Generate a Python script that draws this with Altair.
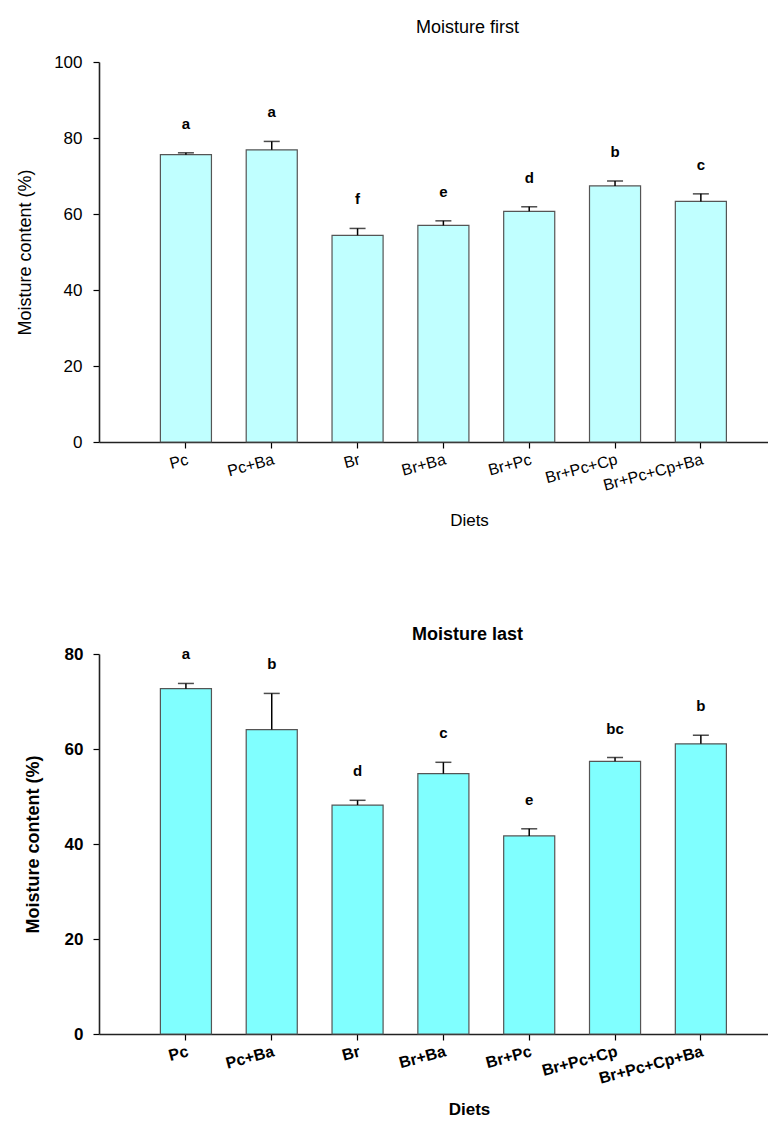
import altair as alt
import pandas as pd

diets = ["Pc", "Pc+Ba", "Br", "Br+Ba", "Br+Pc", "Br+Pc+Cp", "Br+Pc+Cp+Ba"]

first_mean = [75.6, 76.9, 54.4, 57.0, 60.7, 67.4, 63.3]
first_err = [0.5, 2.2, 1.8, 1.2, 1.2, 1.3, 2.0]
first_letters = ["a", "a", "f", "e", "d", "b", "c"]

last_mean = [72.7, 64.1, 48.2, 54.8, 41.7, 57.4, 61.1]
last_err = [1.1, 7.6, 1.0, 2.4, 1.5, 0.8, 1.8]
last_letters = ["a", "b", "d", "c", "e", "bc", "b"]

first_ticks = [0, 20, 40, 60, 80, 100]
last_ticks = [0, 20, 40, 60, 80]

FONT = "Liberation Sans"


def panel(mean, err, letters, title, ticks, fill, bold, title_offset, ytitle_pad,
          ylabel_pad, xtitle_pad):
    df = pd.DataFrame({"diet": diets, "mean": mean, "err": err, "letter": letters})
    df["top"] = df["mean"] + df["err"]
    weight = "bold" if bold else "normal"
    xscale = alt.Scale(domain=diets, paddingInner=0.405, paddingOuter=0.60, align=0.596)
    xaxis = alt.Axis(
        title="Diets", labelAngle=345, labelAlign="right", labelBaseline="top",
        labelFontSize=16, labelFont=FONT, labelFontWeight=weight, labelColor="black",
        labelPadding=3, tickSize=6, tickColor="black", tickWidth=1.2,
        domainColor="#222", domainWidth=1.6, titleFont=FONT, titleFontSize=17,
        titleFontWeight=weight, titleColor="black", titlePadding=xtitle_pad, titleX=370,
        labelOverlap=False,
    )
    yaxis = alt.Axis(
        title="Moisture content (%)", values=ticks, labelFontSize=17, labelFont=FONT,
        labelFontWeight=weight, labelColor="black", labelPadding=ylabel_pad, tickSize=6,
        tickColor="black", tickWidth=1.2, domainColor="#222", domainWidth=1.6,
        titleFont=FONT, titleFontSize=18, titleFontWeight=weight, titleColor="black",
        titlePadding=ytitle_pad,
    )
    x = alt.X("diet:N", scale=xscale, sort=diets, axis=xaxis)
    base = alt.Chart(df)
    bars = base.mark_bar(fill=fill, stroke="#555555", strokeWidth=1.2).encode(
        x=x,
        y=alt.Y("mean:Q", scale=alt.Scale(domain=[0, ticks[-1]], nice=False), axis=yaxis),
    )
    rule = base.mark_rule(color="black", strokeWidth=1.5).encode(
        x=alt.X("diet:N", sort=diets), y="mean:Q", y2="top:Q"
    )
    cap = base.mark_tick(color="black", thickness=1.5, size=16).encode(
        x=alt.X("diet:N", sort=diets), y="top:Q"
    )
    text = base.mark_text(fontWeight="bold", fontSize=15, font=FONT, dy=-29, color="black").encode(
        x=alt.X("diet:N", sort=diets), y="top:Q", text="letter:N"
    )
    return alt.layer(bars, rule, cap, text).properties(
        width=669, height=380,
        title=alt.TitleParams(title, font=FONT, fontSize=18, fontWeight=weight,
                              color="black", dx=34, offset=title_offset),
    )


top = panel(first_mean, first_err, first_letters, "Moisture first", first_ticks,
            "#C0FFFF", False, 16, 19, 11, 19)
bottom = panel(last_mean, last_err, last_letters, "Moisture last", last_ticks,
               "#80FFFF", True, 1, 22, 10, 15)

chart = alt.vconcat(top, bottom, spacing=97).properties(
    padding={"left": 8, "top": 11, "right": 0, "bottom": 0}
).configure_view(stroke=None).configure_axis(grid=False)

chart.save("out.html", embed_options={"renderer": "svg", "actions": False})
